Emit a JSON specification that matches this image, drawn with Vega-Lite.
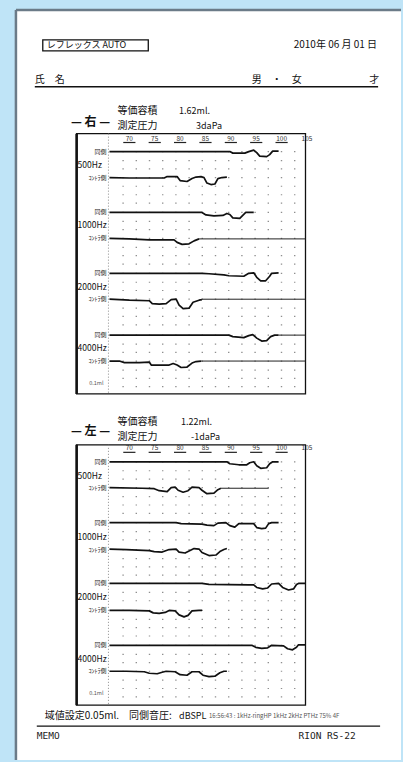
{
  "$schema": "https://vega.github.io/schema/vega-lite/v6.json",
  "width": 403,
  "height": 762,
  "autosize": {"type": "fit", "contains": "padding"},
  "padding": 0,
  "background": "#bfe4f7",
  "config": {"view": {"stroke": null}, "axis": {"disable": true}, "text": {"font": "Noto Sans CJK JP"}},
  "encoding": {
    "x": {"field": "db", "type": "quantitative", "scale": {"domain": [44.51, 123.53], "nice": false, "zero": false}, "axis": null},
    "y": {"field": "ml", "type": "quantitative", "scale": {"domain": [0, 9.525], "reverse": true, "nice": false, "zero": false}, "axis": null}
  },
  "datasets": {
    "traces": [
      {"t":"右500同側","db":66.08,"ml":1.9},{"t":"右500同側","db":75.88,"ml":1.9},{"t":"右500同側","db":83.73,"ml":1.9},{"t":"右500同側","db":89.80,"ml":1.9},{"t":"右500同側","db":90.39,"ml":1.919},{"t":"右500同側","db":92.75,"ml":1.919},{"t":"右500同側","db":93.53,"ml":1.9},{"t":"右500同側","db":94.51,"ml":1.881},{"t":"右500同側","db":95.10,"ml":1.913},{"t":"右500同側","db":95.69,"ml":1.956},{"t":"右500同側","db":97.06,"ml":1.963},{"t":"右500同側","db":97.65,"ml":1.938},{"t":"右500同側","db":98.24,"ml":1.894},{"t":"右500同側","db":99.41,"ml":1.894},
      {"t":"右500対側","db":66.08,"ml":2.225},{"t":"右500対側","db":70.00,"ml":2.231},{"t":"右500対側","db":73.92,"ml":2.231},{"t":"右500対側","db":76.86,"ml":2.231},{"t":"右500対側","db":77.45,"ml":2.213},{"t":"右500対側","db":79.41,"ml":2.213},{"t":"右500対側","db":80.00,"ml":2.263},{"t":"右500対側","db":81.37,"ml":2.275},{"t":"右500対側","db":82.35,"ml":2.238},{"t":"右500対側","db":83.14,"ml":2.219},{"t":"右500対側","db":84.12,"ml":2.213},{"t":"右500対側","db":84.71,"ml":2.225},{"t":"右500対側","db":85.29,"ml":2.294},{"t":"右500対側","db":86.08,"ml":2.313},{"t":"右500対側","db":86.86,"ml":2.306},{"t":"右500対側","db":87.45,"ml":2.238},{"t":"右500対側","db":88.24,"ml":2.225},{"t":"右500対側","db":89.22,"ml":2.219},
      {"t":"右1000同側","db":66.08,"ml":2.6625},{"t":"右1000同側","db":73.92,"ml":2.6625},{"t":"右1000同側","db":79.80,"ml":2.6625},{"t":"右1000同側","db":84.31,"ml":2.6625},{"t":"右1000同側","db":85.10,"ml":2.694},{"t":"右1000同側","db":86.67,"ml":2.706},{"t":"右1000同側","db":88.43,"ml":2.7},{"t":"右1000同側","db":89.22,"ml":2.675},{"t":"右1000同側","db":89.80,"ml":2.6875},{"t":"右1000同側","db":90.39,"ml":2.731},{"t":"右1000同側","db":91.76,"ml":2.7375},{"t":"右1000同側","db":92.35,"ml":2.7},{"t":"右1000同側","db":92.94,"ml":2.6625},{"t":"右1000同側","db":94.51,"ml":2.6625},
      {"t":"右1000対側","db":66.08,"ml":2.9875},{"t":"右1000対側","db":70.00,"ml":2.994},{"t":"右1000対側","db":73.92,"ml":3.006},{"t":"右1000対側","db":78.82,"ml":3.006},{"t":"右1000対側","db":79.41,"ml":3.0375},{"t":"右1000対側","db":80.39,"ml":3.0625},{"t":"右1000対側","db":81.76,"ml":3.056},{"t":"右1000対側","db":82.75,"ml":3.019},{"t":"右1000対側","db":83.73,"ml":2.994},
      {"t":"右2000同側","db":66.08,"ml":3.425},{"t":"右2000同側","db":73.92,"ml":3.425},{"t":"右2000同側","db":84.31,"ml":3.425},{"t":"右2000同側","db":85.69,"ml":3.431},{"t":"右2000同側","db":88.63,"ml":3.444},{"t":"右2000同側","db":89.61,"ml":3.456},{"t":"右2000同側","db":92.55,"ml":3.4625},{"t":"右2000同側","db":93.53,"ml":3.425},{"t":"右2000同側","db":94.51,"ml":3.419},{"t":"右2000同側","db":95.10,"ml":3.475},{"t":"右2000同側","db":95.88,"ml":3.519},{"t":"右2000同側","db":96.86,"ml":3.519},{"t":"右2000同側","db":97.65,"ml":3.4625},{"t":"右2000同側","db":98.04,"ml":3.425},{"t":"右2000同側","db":99.41,"ml":3.419},
      {"t":"右2000対側","db":66.08,"ml":3.75},{"t":"右2000対側","db":70.00,"ml":3.7625},{"t":"右2000対側","db":73.92,"ml":3.769},{"t":"右2000対側","db":74.51,"ml":3.806},{"t":"右2000対側","db":75.88,"ml":3.8125},{"t":"右2000対側","db":77.25,"ml":3.806},{"t":"右2000対側","db":78.24,"ml":3.756},{"t":"右2000対側","db":79.22,"ml":3.75},{"t":"右2000対側","db":79.80,"ml":3.825},{"t":"右2000対側","db":80.59,"ml":3.869},{"t":"右2000対側","db":81.76,"ml":3.8625},{"t":"右2000対側","db":82.55,"ml":3.7875},{"t":"右2000対側","db":83.73,"ml":3.7625},{"t":"右2000対側","db":84.31,"ml":3.756},
      {"t":"右4000同側","db":66.08,"ml":4.2},{"t":"右4000同側","db":73.92,"ml":4.2},{"t":"右4000同側","db":89.61,"ml":4.2},{"t":"右4000同側","db":90.39,"ml":4.219},{"t":"右4000同側","db":92.55,"ml":4.231},{"t":"右4000同側","db":93.53,"ml":4.206},{"t":"右4000同側","db":94.31,"ml":4.194},{"t":"右4000同側","db":95.10,"ml":4.2375},{"t":"右4000同側","db":96.08,"ml":4.275},{"t":"右4000同側","db":97.06,"ml":4.269},{"t":"右4000同側","db":97.84,"ml":4.219},{"t":"右4000同側","db":98.63,"ml":4.2},{"t":"右4000同側","db":99.41,"ml":4.2},
      {"t":"右4000対側","db":66.08,"ml":4.525},{"t":"右4000対側","db":68.04,"ml":4.525},{"t":"右4000対側","db":69.02,"ml":4.544},{"t":"右4000対側","db":71.96,"ml":4.544},{"t":"右4000対側","db":73.92,"ml":4.5375},{"t":"右4000対側","db":74.31,"ml":4.575},{"t":"右4000対側","db":77.84,"ml":4.575},{"t":"右4000対側","db":78.63,"ml":4.556},{"t":"右4000対側","db":79.41,"ml":4.575},{"t":"右4000対側","db":80.20,"ml":4.606},{"t":"右4000対側","db":81.37,"ml":4.6},{"t":"右4000対側","db":82.35,"ml":4.55},{"t":"右4000対側","db":83.14,"ml":4.531},{"t":"右4000対側","db":84.12,"ml":4.525},
      {"t":"左500同側","db":66.08,"ml":5.7875},{"t":"左500同側","db":73.92,"ml":5.7875},{"t":"左500同側","db":89.22,"ml":5.7875},{"t":"左500同側","db":89.80,"ml":5.8125},{"t":"左500同側","db":91.57,"ml":5.825},{"t":"左500同側","db":93.14,"ml":5.825},{"t":"左500同側","db":93.73,"ml":5.8},{"t":"左500同側","db":94.51,"ml":5.7875},{"t":"左500同側","db":95.10,"ml":5.8375},{"t":"左500同側","db":95.88,"ml":5.869},{"t":"左500同側","db":97.06,"ml":5.8625},{"t":"左500同側","db":97.65,"ml":5.8125},{"t":"左500同側","db":98.24,"ml":5.7875},{"t":"左500同側","db":99.41,"ml":5.7875},
      {"t":"左500対側","db":66.08,"ml":6.1125},{"t":"左500対側","db":72.55,"ml":6.119},{"t":"左500対側","db":74.90,"ml":6.125},{"t":"左500対側","db":75.88,"ml":6.15},{"t":"左500対側","db":77.45,"ml":6.1625},{"t":"左500対側","db":78.24,"ml":6.1125},{"t":"左500対側","db":79.02,"ml":6.106},{"t":"左500対側","db":79.61,"ml":6.144},{"t":"左500対側","db":80.59,"ml":6.169},{"t":"左500対側","db":81.57,"ml":6.15},{"t":"左500対側","db":82.35,"ml":6.106},{"t":"左500対側","db":83.73,"ml":6.1125},{"t":"左500対側","db":84.31,"ml":6.144},{"t":"左500対側","db":85.29,"ml":6.1875},{"t":"左500対側","db":86.67,"ml":6.181},{"t":"左500対側","db":87.45,"ml":6.1375},{"t":"左500対側","db":88.04,"ml":6.119},
      {"t":"左1000同側","db":66.08,"ml":6.55},{"t":"左1000同側","db":73.92,"ml":6.55},{"t":"左1000同側","db":79.22,"ml":6.55},{"t":"左1000同側","db":80.20,"ml":6.5625},{"t":"左1000同側","db":84.31,"ml":6.569},{"t":"左1000同側","db":85.29,"ml":6.581},{"t":"左1000同側","db":86.67,"ml":6.5875},{"t":"左1000同側","db":87.45,"ml":6.556},{"t":"左1000同側","db":89.02,"ml":6.55},{"t":"左1000同側","db":89.80,"ml":6.5875},{"t":"左1000同側","db":90.78,"ml":6.606},{"t":"左1000同側","db":91.57,"ml":6.5625},{"t":"左1000同側","db":94.51,"ml":6.5625},{"t":"左1000同側","db":95.10,"ml":6.6125},{"t":"左1000同側","db":96.08,"ml":6.625},{"t":"左1000同側","db":96.86,"ml":6.619},{"t":"左1000同側","db":97.45,"ml":6.5625},{"t":"左1000同側","db":98.04,"ml":6.55},{"t":"左1000同側","db":99.41,"ml":6.55},
      {"t":"左1000対側","db":66.08,"ml":6.881},{"t":"左1000対側","db":69.41,"ml":6.8875},{"t":"左1000対側","db":73.92,"ml":6.9},{"t":"左1000対側","db":74.90,"ml":6.9125},{"t":"左1000対側","db":76.47,"ml":6.919},{"t":"左1000対側","db":77.84,"ml":6.8875},{"t":"左1000対側","db":79.22,"ml":6.881},{"t":"左1000対側","db":79.80,"ml":6.919},{"t":"左1000対側","db":80.98,"ml":6.931},{"t":"左1000対側","db":81.96,"ml":6.9},{"t":"左1000対側","db":82.75,"ml":6.875},{"t":"左1000対側","db":83.73,"ml":6.881},{"t":"左1000対側","db":84.31,"ml":6.925},{"t":"左1000対側","db":85.69,"ml":6.9625},{"t":"左1000対側","db":87.06,"ml":6.956},{"t":"左1000対側","db":87.84,"ml":6.9125},{"t":"左1000対側","db":88.63,"ml":6.8875},{"t":"左1000対側","db":89.22,"ml":6.875},
      {"t":"左2000同側","db":66.08,"ml":7.3125},{"t":"左2000同側","db":73.92,"ml":7.3125},{"t":"左2000同側","db":84.31,"ml":7.3125},{"t":"左2000同側","db":85.69,"ml":7.325},{"t":"左2000同側","db":93.53,"ml":7.331},{"t":"左2000同側","db":94.51,"ml":7.331},{"t":"左2000同側","db":95.10,"ml":7.3625},{"t":"左2000同側","db":96.27,"ml":7.381},{"t":"左2000同側","db":97.25,"ml":7.369},{"t":"左2000同側","db":98.04,"ml":7.319},{"t":"左2000同側","db":99.41,"ml":7.3125},{"t":"左2000同側","db":100.20,"ml":7.3625},{"t":"左2000同側","db":101.37,"ml":7.394},{"t":"左2000同側","db":102.35,"ml":7.381},{"t":"左2000同側","db":102.94,"ml":7.325},{"t":"左2000同側","db":103.33,"ml":7.3125},{"t":"左2000同側","db":104.71,"ml":7.3125},
      {"t":"左2000対側","db":66.08,"ml":7.65},{"t":"左2000対側","db":70.00,"ml":7.65},{"t":"左2000対側","db":73.92,"ml":7.656},{"t":"左2000対側","db":74.71,"ml":7.681},{"t":"左2000対側","db":75.88,"ml":7.6875},{"t":"左2000対側","db":77.06,"ml":7.675},{"t":"左2000対側","db":77.84,"ml":7.65},{"t":"左2000対側","db":79.02,"ml":7.656},{"t":"左2000対側","db":79.80,"ml":7.706},{"t":"左2000対側","db":80.78,"ml":7.731},{"t":"左2000対側","db":81.57,"ml":7.7125},{"t":"左2000対側","db":82.35,"ml":7.656},{"t":"左2000対側","db":83.73,"ml":7.65},{"t":"左2000対側","db":84.31,"ml":7.65},
      {"t":"左4000同側","db":66.08,"ml":8.0875},{"t":"左4000同側","db":73.92,"ml":8.0875},{"t":"左4000同側","db":94.12,"ml":8.0875},{"t":"左4000同側","db":94.90,"ml":8.1125},{"t":"左4000同側","db":96.08,"ml":8.125},{"t":"左4000同側","db":97.25,"ml":8.119},{"t":"左4000同側","db":98.04,"ml":8.0875},{"t":"左4000同側","db":100.39,"ml":8.094},{"t":"左4000同側","db":101.18,"ml":8.131},{"t":"左4000同側","db":102.16,"ml":8.144},{"t":"左4000同側","db":102.94,"ml":8.1125},{"t":"左4000同側","db":103.33,"ml":8.081},{"t":"左4000同側","db":104.71,"ml":8.081},
      {"t":"左4000対側","db":66.08,"ml":8.4125},{"t":"左4000対側","db":69.41,"ml":8.4125},{"t":"左4000対側","db":72.94,"ml":8.419},{"t":"左4000対側","db":73.92,"ml":8.4375},{"t":"左4000対側","db":75.49,"ml":8.444},{"t":"左4000対側","db":76.47,"ml":8.425},{"t":"左4000対側","db":77.25,"ml":8.4125},{"t":"左4000対側","db":79.02,"ml":8.419},{"t":"左4000対側","db":80.00,"ml":8.456},{"t":"左4000対側","db":81.37,"ml":8.4625},{"t":"左4000対側","db":82.35,"ml":8.419},{"t":"左4000対側","db":83.73,"ml":8.419},{"t":"左4000対側","db":84.51,"ml":8.4625},{"t":"左4000対側","db":85.69,"ml":8.481},{"t":"左4000対側","db":86.86,"ml":8.475},{"t":"左4000対側","db":87.84,"ml":8.431},{"t":"左4000対側","db":88.63,"ml":8.4125},{"t":"左4000対側","db":89.22,"ml":8.4125}
    ],
    "ext": [
      {"db":83.73,"db2":104.71,"ml":2.994},
      {"db":84.31,"db2":104.71,"ml":3.75},
      {"db":99.41,"db2":104.71,"ml":4.2},
      {"db":84.12,"db2":104.71,"ml":4.525},
      {"db":88.04,"db2":97.45,"ml":6.119}
    ],
    "dots": [
      {"db":68.63,"db2":104.71,"ml":1.9},{"db":68.63,"db2":104.71,"ml":2.0125},{"db":68.63,"db2":104.71,"ml":2.116},
      {"db":68.63,"db2":104.71,"ml":2.225},{"db":68.63,"db2":104.71,"ml":2.334},{"db":68.63,"db2":104.71,"ml":2.441},{"db":68.63,"db2":104.71,"ml":2.546},
      {"db":68.63,"db2":104.71,"ml":2.6625},{"db":68.63,"db2":104.71,"ml":2.775},{"db":68.63,"db2":104.71,"ml":2.879},
      {"db":68.63,"db2":104.71,"ml":2.9875},{"db":68.63,"db2":104.71,"ml":3.1},{"db":68.63,"db2":104.71,"ml":3.204},{"db":68.63,"db2":104.71,"ml":3.309},
      {"db":68.63,"db2":104.71,"ml":3.425},{"db":68.63,"db2":104.71,"ml":3.5375},{"db":68.63,"db2":104.71,"ml":3.641},
      {"db":68.63,"db2":104.71,"ml":3.75},{"db":68.63,"db2":104.71,"ml":3.8625},{"db":68.63,"db2":104.71,"ml":3.966},{"db":68.63,"db2":104.71,"ml":4.071},
      {"db":68.63,"db2":104.71,"ml":4.2},{"db":68.63,"db2":104.71,"ml":4.3125},{"db":68.63,"db2":104.71,"ml":4.416},
      {"db":68.63,"db2":104.71,"ml":4.525},{"db":68.63,"db2":104.71,"ml":4.6375},{"db":68.63,"db2":104.71,"ml":4.741},{"db":68.63,"db2":104.71,"ml":4.846},
      {"db":68.63,"db2":104.71,"ml":5.7875},{"db":68.63,"db2":104.71,"ml":5.9},{"db":68.63,"db2":104.71,"ml":6.004},
      {"db":68.63,"db2":104.71,"ml":6.1125},{"db":68.63,"db2":104.71,"ml":6.225},{"db":68.63,"db2":104.71,"ml":6.329},{"db":68.63,"db2":104.71,"ml":6.434},
      {"db":68.63,"db2":104.71,"ml":6.55},{"db":68.63,"db2":104.71,"ml":6.6625},{"db":68.63,"db2":104.71,"ml":6.766},
      {"db":68.63,"db2":104.71,"ml":6.8875},{"db":68.63,"db2":104.71,"ml":7.0},{"db":68.63,"db2":104.71,"ml":7.104},{"db":68.63,"db2":104.71,"ml":7.209},
      {"db":68.63,"db2":104.71,"ml":7.3125},{"db":68.63,"db2":104.71,"ml":7.425},{"db":68.63,"db2":104.71,"ml":7.529},
      {"db":68.63,"db2":104.71,"ml":7.65},{"db":68.63,"db2":104.71,"ml":7.7625},{"db":68.63,"db2":104.71,"ml":7.866},{"db":68.63,"db2":104.71,"ml":7.971},
      {"db":68.63,"db2":104.71,"ml":8.0875},{"db":68.63,"db2":104.71,"ml":8.2},{"db":68.63,"db2":104.71,"ml":8.304},
      {"db":68.63,"db2":104.71,"ml":8.4125},{"db":68.63,"db2":104.71,"ml":8.525},{"db":68.63,"db2":104.71,"ml":8.629},{"db":68.63,"db2":104.71,"ml":8.734}
    ],
    "boxes": [
      {"ear":"右","db":59.61,"db2":104.71,"ml":1.675,"ml2":4.9375},
      {"ear":"左","db":59.61,"db2":104.71,"ml":5.575,"ml2":8.8375}
    ],
    "axes": [
      {"ear":"右","db":65.88,"ml":1.675,"ml2":4.9375},
      {"ear":"左","db":65.88,"ml":5.575,"ml2":8.8375}
    ],
    "cols": [
      {"text":"70","db":70,"ml":1.7375},{"text":"75","db":75,"ml":1.7375},{"text":"80","db":80,"ml":1.7375},{"text":"85","db":85,"ml":1.7375},{"text":"90","db":90,"ml":1.7375},{"text":"95","db":95,"ml":1.7375},{"text":"100","db":100,"ml":1.7375},{"text":"105","db":105,"ml":1.7375},
      {"text":"70","db":70,"ml":5.619},{"text":"75","db":75,"ml":5.619},{"text":"80","db":80,"ml":5.619},{"text":"85","db":85,"ml":5.619},{"text":"90","db":90,"ml":5.619},{"text":"95","db":95,"ml":5.619},{"text":"100","db":100,"ml":5.619},{"text":"105","db":105,"ml":5.619}
    ],
    "unders": [
      {"db":68.8,"db2":71.2,"ml":1.786},{"db":73.8,"db2":76.2,"ml":1.786},{"db":78.8,"db2":81.2,"ml":1.786},{"db":83.8,"db2":86.2,"ml":1.786},{"db":88.8,"db2":91.2,"ml":1.786},{"db":93.8,"db2":96.2,"ml":1.786},{"db":98.8,"db2":101.2,"ml":1.786},
      {"db":68.8,"db2":71.2,"ml":5.669},{"db":73.8,"db2":76.2,"ml":5.669},{"db":78.8,"db2":81.2,"ml":5.669},{"db":83.8,"db2":86.2,"ml":5.669},{"db":88.8,"db2":91.2,"ml":5.669},{"db":93.8,"db2":96.2,"ml":5.669},{"db":98.8,"db2":101.2,"ml":5.669}
    ],
    "texts": [
      {"role":"box","text":"レフレックス AUTO","db":53.73,"ml":0.569},
      {"role":"right","text":"2010年 06 月 01 日","db":118.82,"ml":0.569},
      {"role":"jp","text":"氏　名","db":51.37,"ml":1.0},
      {"role":"jp","text":"男　・　女","db":94.12,"ml":1.0},
      {"role":"right","text":"才","db":119.22,"ml":1.0},
      {"role":"ear","text":"— 右 —","db":62.35,"ml":1.525},
      {"role":"ear","text":"— 左 —","db":62.35,"ml":5.4},
      {"role":"jp","text":"等価容積","db":67.65,"ml":1.39},
      {"role":"jp","text":"測定圧力","db":67.65,"ml":1.575},
      {"role":"jp","text":"等価容積","db":67.65,"ml":5.2875},
      {"role":"jp","text":"測定圧力","db":67.65,"ml":5.475},
      {"role":"num","text":"1.62ml.","db":79.80,"ml":1.39},
      {"role":"num","text":"3daPa","db":83.14,"ml":1.575},
      {"role":"num","text":"1.22ml.","db":80.20,"ml":5.2875},
      {"role":"num","text":"-1daPa","db":82.16,"ml":5.475},
      {"role":"jp","text":"域値設定0.05ml.　同側音圧:","db":53.33,"ml":8.975},
      {"role":"num","text":"dBSPL","db":79.80,"ml":8.975},
      {"role":"tiny","text":"16:56:43 : 1kHz-ringHP 1kHz 2kHz PTHz 75%   4F","db":85.69,"ml":8.975},
      {"role":"mono","text":"MEMO","db":51.76,"ml":9.225},
      {"role":"mono","text":"RION RS-22","db":103.33,"ml":9.225},
      {"role":"freq","text":"500Hz","db":59.80,"ml":2.0625},
      {"role":"freq","text":"1000Hz","db":59.80,"ml":2.825},
      {"role":"freq","text":"2000Hz","db":59.80,"ml":3.6},
      {"role":"freq","text":"4000Hz","db":59.80,"ml":4.3625},
      {"role":"freq","text":"500Hz","db":59.80,"ml":5.9625},
      {"role":"freq","text":"1000Hz","db":59.80,"ml":6.725},
      {"role":"freq","text":"2000Hz","db":59.80,"ml":7.4875},
      {"role":"freq","text":"4000Hz","db":59.80,"ml":8.2625},
      {"role":"side","text":"同側","db":65.49,"ml":1.9},
      {"role":"side","text":"ｺﾝﾄﾗ側","db":65.49,"ml":2.225},
      {"role":"side","text":"同側","db":65.49,"ml":2.6625},
      {"role":"side","text":"ｺﾝﾄﾗ側","db":65.49,"ml":2.9875},
      {"role":"side","text":"同側","db":65.49,"ml":3.425},
      {"role":"side","text":"ｺﾝﾄﾗ側","db":65.49,"ml":3.75},
      {"role":"side","text":"同側","db":65.49,"ml":4.2},
      {"role":"side","text":"ｺﾝﾄﾗ側","db":65.49,"ml":4.525},
      {"role":"side","text":"同側","db":65.49,"ml":5.7875},
      {"role":"side","text":"ｺﾝﾄﾗ側","db":65.49,"ml":6.1125},
      {"role":"side","text":"同側","db":65.49,"ml":6.55},
      {"role":"side","text":"ｺﾝﾄﾗ側","db":65.49,"ml":6.8875},
      {"role":"side","text":"同側","db":65.49,"ml":7.3125},
      {"role":"side","text":"ｺﾝﾄﾗ側","db":65.49,"ml":7.65},
      {"role":"side","text":"同側","db":65.49,"ml":8.0875},
      {"role":"side","text":"ｺﾝﾄﾗ側","db":65.49,"ml":8.4125},
      {"role":"scale","text":"0.1ml","db":64.90,"ml":4.8},
      {"role":"scale","text":"0.1ml","db":64.90,"ml":8.6875}
    ]
  },
  "layer": [
    {"data": {"values": [{"db":47.65,"db2":123.53,"ml":0.125,"ml2":9.525}]},
     "mark": {"type":"rect","fill":"#ffffff"},
     "encoding": {"x2":{"field":"db2"},"y2":{"field":"ml2"}}},
    {"data": {"values": [{"db":47.65,"ml":0.125,"ml2":9.525}]},
     "mark": {"type":"rule","stroke":"#6b7b88","strokeWidth":2.5},
     "encoding": {"y2":{"field":"ml2"}}},
    {"data": {"values": [{"db":47.65,"db2":123.53,"ml":0.125}]},
     "mark": {"type":"rule","stroke":"#6b7b88","strokeWidth":2.5},
     "encoding": {"x2":{"field":"db2"}}},
    {"data": {"values": [{"db":52.94,"db2":73.73,"ml":0.5,"ml2":0.6375}]},
     "mark": {"type":"rect","fill":"#ffffff","stroke":"#111111","strokeWidth":1.3},
     "encoding": {"x2":{"field":"db2"},"y2":{"field":"ml2"}}},
    {"data": {"values": [{"db":51.37,"db2":119.02,"ml":1.0875},{"db":51.76,"db2":119.41,"ml":9.1}]},
     "mark": {"type":"rule","stroke":"#111111","strokeWidth":1.4},
     "encoding": {"x2":{"field":"db2"}}},
    {"data": {"name":"boxes"},
     "mark": {"type":"rect","fillOpacity":0,"stroke":"#111111","strokeWidth":1.3},
     "encoding": {"x2":{"field":"db2"},"y2":{"field":"ml2"}}},
    {"data": {"name":"boxes"},
     "mark": {"type":"rule","stroke":"#111111","strokeWidth":2.6},
     "encoding": {"y2":{"field":"ml2"}}},
    {"data": {"name":"axes"},
     "mark": {"type":"rule","stroke":"#8a8a8a","strokeWidth":1,"strokeDash":[1,2]},
     "encoding": {"y2":{"field":"ml2"}}},
    {"data": {"name":"dots"},
     "mark": {"type":"rule","stroke":"#8f8f8f","strokeWidth":1.2,"strokeDash":[1.4,11.8]},
     "encoding": {"x2":{"field":"db2"}}},
    {"data": {"name":"unders"},
     "mark": {"type":"rule","stroke":"#222222","strokeWidth":1.2},
     "encoding": {"x2":{"field":"db2"}}},
    {"data": {"name":"ext"},
     "mark": {"type":"rule","stroke":"#222222","strokeWidth":1},
     "encoding": {"x2":{"field":"db2"}}},
    {"data": {"name":"traces"},
     "mark": {"type":"line","stroke":"#111111","strokeWidth":1.7,"strokeJoin":"round"},
     "encoding": {"detail":{"field":"t"}}},
    {"data": {"name":"cols"},
     "mark": {"type":"text","fontSize":6.5,"align":"center","baseline":"middle","fill":"#333333"},
     "encoding": {"text":{"field":"text"}}},
    {"data": {"name":"texts"},"transform":[{"filter":"datum.role==='box'"}],
     "mark": {"type":"text","fontSize":9,"align":"left","baseline":"middle","fill":"#111111"},
     "encoding": {"text":{"field":"text"}}},
    {"data": {"name":"texts"},"transform":[{"filter":"datum.role==='right'"}],
     "mark": {"type":"text","fontSize":10,"align":"right","baseline":"middle","fill":"#111111"},
     "encoding": {"text":{"field":"text"}}},
    {"data": {"name":"texts"},"transform":[{"filter":"datum.role==='jp'"}],
     "mark": {"type":"text","fontSize":10,"align":"left","baseline":"middle","fill":"#111111"},
     "encoding": {"text":{"field":"text"}}},
    {"data": {"name":"texts"},"transform":[{"filter":"datum.role==='ear'"}],
     "mark": {"type":"text","fontSize":12,"fontWeight":"bold","align":"center","baseline":"middle","fill":"#111111"},
     "encoding": {"text":{"field":"text"}}},
    {"data": {"name":"texts"},"transform":[{"filter":"datum.role==='num'"}],
     "mark": {"type":"text","fontSize":9,"align":"left","baseline":"middle","fill":"#111111"},
     "encoding": {"text":{"field":"text"}}},
    {"data": {"name":"texts"},"transform":[{"filter":"datum.role==='tiny'"}],
     "mark": {"type":"text","fontSize":6,"align":"left","baseline":"middle","fill":"#555555","letterSpacing":0.45},
     "encoding": {"text":{"field":"text"}}},
    {"data": {"name":"texts"},"transform":[{"filter":"datum.role==='mono'"}],
     "mark": {"type":"text","font":"DejaVu Sans Mono","fontSize":9.5,"align":"left","baseline":"middle","fill":"#222222","letterSpacing":1},
     "encoding": {"text":{"field":"text"}}},
    {"data": {"name":"texts"},"transform":[{"filter":"datum.role==='freq'"}],
     "mark": {"type":"text","fontSize":8.5,"align":"left","baseline":"middle","fill":"#111111"},
     "encoding": {"text":{"field":"text"}}},
    {"data": {"name":"texts"},"transform":[{"filter":"datum.role==='side'"}],
     "mark": {"type":"text","fontSize":6,"align":"right","baseline":"middle","fill":"#222222"},
     "encoding": {"text":{"field":"text"}}},
    {"data": {"name":"texts"},"transform":[{"filter":"datum.role==='scale'"}],
     "mark": {"type":"text","fontSize":5.5,"align":"right","baseline":"middle","fill":"#555555"},
     "encoding": {"text":{"field":"text"}}}
  ]
}
